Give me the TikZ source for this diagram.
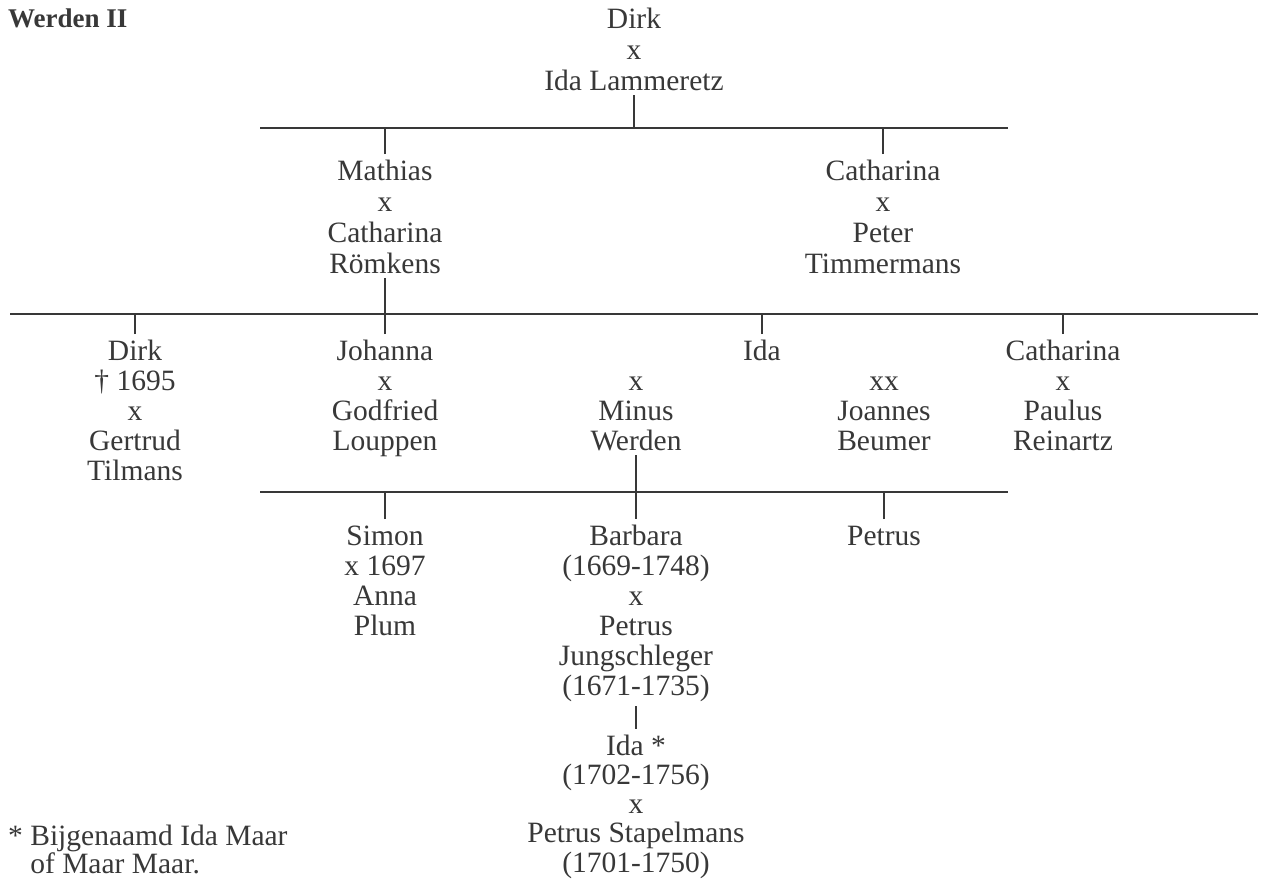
\documentclass[tikz,border=0pt]{standalone}
\usepackage{fontspec}
\setmainfont{Liberation Serif}
\definecolor{ink}{HTML}{383838}
\newcommand{\fr}{\rule{0pt}{21pt}}
\begin{document}
\begin{tikzpicture}[x=1pt,y=-1pt,
  every node/.style={text=ink},
  person/.style={align=center, inner sep=0pt, outer sep=5pt, anchor=north,
    font=\fontsize{29.5}{30}\selectfont},
  wide/.style={font=\fontsize{29.5}{31}\selectfont},
  tight/.style={font=\fontsize{29.5}{29.3}\selectfont},
  bar/.style={draw=ink, line width=1.5pt},
  tick/.style={draw=ink, line width=1.5pt}]
\useasboundingbox (0,0) rectangle (1262,884);
\fill[white] (0,0) rectangle (1262,884);

\node[anchor=base west, inner sep=0pt, font=\fontsize{27}{30}\selectfont\bfseries] (title) at (8,27) {Werden II};

% generation 1
\node[person, wide] (top) at (634,2) {\fr Dirk\\x\\Ida Lammeretz};
% generation 2
\node[person, wide] (mathias) at (385,154) {\fr Mathias\\x\\Catharina\\Römkens};
\node[person, wide] (cathA) at (883,154) {\fr Catharina\\x\\Peter\\Timmermans};
% generation 3
\node[person] (dirkB) at (135,334) {\fr Dirk\\† 1695\\x\\Gertrud\\Tilmans};
\node[person] (johanna) at (385,334) {\fr Johanna\\x\\Godfried\\Louppen};
\node[person] (ida) at (762,334) {\fr Ida};
\node[person] (minus) at (636,364) {\fr x\\Minus\\Werden};
\node[person] (beumer) at (884,364) {\fr xx\\Joannes\\Beumer};
\node[person] (cathB) at (1063,334) {\fr Catharina\\x\\Paulus\\Reinartz};
% generation 4
\node[person] (simon) at (385,519) {\fr Simon\\x 1697\\Anna\\Plum};
\node[person] (barbara) at (636,519) {\fr Barbara\\(1669-1748)\\x\\Petrus\\Jungschleger\\(1671-1735)};
\node[person] (petrus) at (884,519) {\fr Petrus};
% generation 5
\node[person, tight] (idaC) at (636,729) {\fr Ida *\\(1702-1756)\\x\\Petrus Stapelmans\\(1701-1750)};

% footnote (base anchor = baseline of last line)
\node[anchor=base west, inner sep=0pt, align=left, font=\fontsize{29.5}{28}\selectfont] (note) at (8,873)
  {* Bijgenaamd Ida Maar\\\phantom{* }of Maar Maar.};

% bars
\coordinate (b1l) at (260,128); \coordinate (b1r) at (1008,128);
\coordinate (b2l) at (10,314);  \coordinate (b2r) at (1258,314);
\coordinate (b3l) at (260,492); \coordinate (b3r) at (1008,492);
\draw[bar] (b1l) -- (b1r);
\draw[bar] (b2l) -- (b2r);
\draw[bar] (b3l) -- (b3r);

% ticks
\draw[tick] (top.south) -- (top.south |- b1l);
\draw[tick] (mathias.north) -- (mathias.north |- b1l);
\draw[tick] (cathA.north) -- (cathA.north |- b1l);
\draw[tick] (mathias.south) -- (mathias.south |- b2l);
\draw[tick] (dirkB.north) -- (dirkB.north |- b2l);
\draw[tick] (johanna.north) -- (johanna.north |- b2l);
\draw[tick] (ida.north) -- (ida.north |- b2l);
\draw[tick] (cathB.north) -- (cathB.north |- b2l);
\draw[tick] (minus.south) -- (barbara.north);
\draw[tick] (simon.north) -- (simon.north |- b3l);
\draw[tick] (petrus.north) -- (petrus.north |- b3l);
\draw[tick] (barbara.south) -- (idaC.north);
\end{tikzpicture}
\end{document}
